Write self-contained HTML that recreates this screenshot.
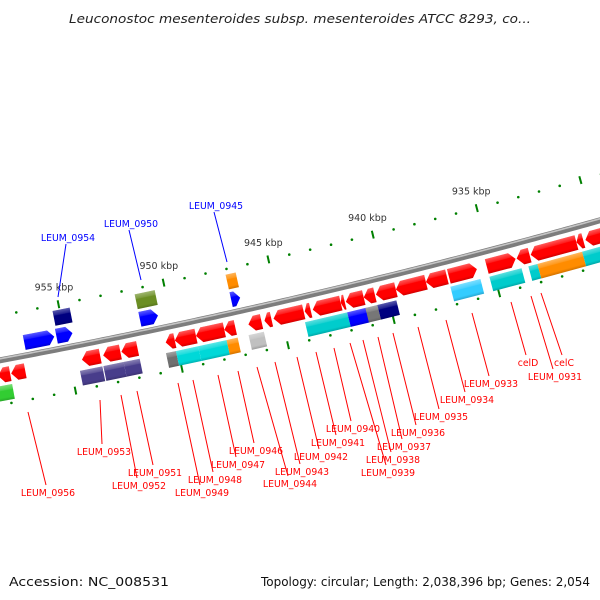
<!DOCTYPE html>
<html><head><meta charset="utf-8"><style>
html,body{margin:0;padding:0;background:#fff;}
svg{display:block;}
text{font-family:"DejaVu Sans","Liberation Sans",sans-serif;}
</style></head><body>
<svg id="map" width="600" height="600" viewBox="0 0 600 600" xmlns="http://www.w3.org/2000/svg">
<defs>
<linearGradient id="bevel" x1="0" y1="0" x2="0" y2="1">
<stop offset="0" stop-color="#fff" stop-opacity="0.35"/>
<stop offset="0.3" stop-color="#fff" stop-opacity="0.12"/>
<stop offset="0.35" stop-color="#fff" stop-opacity="0"/>
<stop offset="0.8" stop-color="#000" stop-opacity="0"/>
<stop offset="1" stop-color="#000" stop-opacity="0.18"/>
</linearGradient>
</defs>
<text x="300" y="23" text-anchor="middle" font-size="12.5" font-style="italic" fill="#222" textLength="462" lengthAdjust="spacingAndGlyphs">Leuconostoc mesenteroides subsp. mesenteroides ATCC 8293, co...</text>
<g id="ticks"></g>
<g id="backbone"></g>
<g id="genes"></g>
<g id="labels"></g>
<text x="9" y="586" font-size="12" fill="#111" textLength="160" lengthAdjust="spacingAndGlyphs">Accession: NC_008531</text>
<text x="590" y="586" text-anchor="end" font-size="12" fill="#111" textLength="329" lengthAdjust="spacingAndGlyphs">Topology: circular; Length: 2,038,396 bp; Genes: 2,054</text>
</svg>
<script>
// ---- data ----
const geneStart = [956.90,955.38,951.43,947.10, 955.33,951.43,947.10,
 958.38,957.76,954.43,953.43,952.57,950.48,950.05,949.05,947.71,946.57,945.81,945.38,943.90,943.52,942.19,941.95,941.10,940.52,939.57,938.14,937.05,935.24,933.81,933.14,930.95,930.52,
 959.20,954.62,953.52,952.57,950.57,950.10,949.05,947.71,946.67,944.00,942.00,941.14,940.57,937.10,935.24,933.38,932.95,930.81];
const geneEnd = [955.48,954.62,950.57,946.67, 954.52,950.48,946.62,
 957.81,957.10,953.57,952.62,951.81,950.05,949.05,947.71,947.19,945.95,945.48,943.95,943.62,942.19,942.00,941.10,940.57,939.57,938.14,937.14,935.71,933.86,933.19,930.95,930.62,929.00,
 957.81,953.57,952.57,951.81,950.10,949.05,947.71,947.19,945.95,942.00,941.10,940.57,939.67,935.67,933.71,932.95,930.81,929.00];
const geneRow = [-1,-1,-1,-1, -2,-2,-2,
 1,1,1,1,1,1,1,1,1,1,1,1,1,1,1,1,1,1,1,1,1,1,1,1,1,1,
 2,2,2,2,2,2,2,2,2,2,2,2,2,2,2,2,2,2];
const geneColor = ["#0000ff","#0000ff","#0000ff","#0000ff","#000080","#6b8e23","#ff8c00",
 "#ff0000","#ff0000","#ff0000","#ff0000","#ff0000","#ff0000","#ff0000","#ff0000","#ff0000","#ff0000","#ff0000","#ff0000","#ff0000","#ff0000","#ff0000","#ff0000","#ff0000","#ff0000","#ff0000","#ff0000","#ff0000","#ff0000","#ff0000","#ff0000","#ff0000","#ff0000",
 "#32cd32","#483d8b","#483d8b","#483d8b","#707070","#00d8d8","#00d8d8","#ff8c00","#c0c0c0","#00cccc","#0000ff","#777777","#000080","#33ccff","#00cccc","#00cccc","#ff8c00","#00cccc"];
const geneShape = [1,1,1,1, 0,0,0,
 -1,-1,-1,-1,-1,-1,-1,-1,-1,-1,-1,-1,-1,-1,-1,-1,-1,-1,-1,-1,1,1,-1,-1,-1,-1,-1,
 0,0,0,0,0,0,0,0,0,0,0,0,0,0,0,0,0,0];
const tickMin = 925, tickMax = 960;
const tickLabels = [955,950,945,940,935];

const redLabels = ["LEUM_0956","LEUM_0953","LEUM_0952","LEUM_0951","LEUM_0949","LEUM_0948","LEUM_0947","LEUM_0946","LEUM_0944","LEUM_0943","LEUM_0942","LEUM_0941","LEUM_0940","LEUM_0939","LEUM_0938","LEUM_0937","LEUM_0936","LEUM_0935","LEUM_0934","LEUM_0933","celD","LEUM_0931","celC"];
const blueLabels = ["LEUM_0954","LEUM_0950","LEUM_0945"];
// ---- layout (annotation placement, not data) ----
const redLineFrom = [[28,412],[100,400],[121,395],[137,391],[178,383],[193,380],[218,375],[238,371],[257,367],[275,362],[297,357],[316,352],[334,348],[350,343],[363,340],[378,337],[393,333],[418,327],[446,320],[472,313],[511,302],[531,296],[541,293]];
const redTextAt = [[48,496],[104,455],[139,489],[155,476],[202,496],[215,483],[238,468],[256,454],[290,487],[302,475],[321,460],[338,446],[353,432],[388,476],[393,463],[404,450],[418,436],[441,420],[467,403],[491,387],[528,366],[555,380],[564,366]];
const blueLineFrom = [[58,297],[141,280],[227,262]];
const blueTextAt = [[68,241],[131,227],[216,209]];

const R = 7000, CX = -1289, CY = -6520;
const rowOffset = {"-2":-31,"-1":-13,"1":15,"2":33};
const NS = "http://www.w3.org/2000/svg";
function th(p){ return 0.2258 + (945 - p) * 0.003086; }
function pt(p, d){ const t = th(p), r = R + d; return [CX + r*Math.sin(t), CY + r*Math.cos(t)]; }
function mk(tag, attrs, parent){ const e = document.createElementNS(NS, tag); for (const k in attrs) e.setAttribute(k, attrs[k]); parent.appendChild(e); return e; }

// ticks
const tg = document.getElementById('ticks');
[-44, 44].forEach(d => {
  for (let p = tickMin; p <= tickMax; p++) {
    if (p % 5 === 0) {
      const a = pt(p, d-4), b = pt(p, d+4);
      const l = mk('line', {x1:a[0],y1:a[1],x2:b[0],y2:b[1],stroke:'#008000','stroke-width':2}, tg);
      
      
    } else {
      const c = pt(p, d);
      const dot = mk('circle', {cx:c[0],cy:c[1],r:1.3,fill:'#008000'}, tg);
      
      
    }
  }
});
tickLabels.forEach(p => {
  const c = pt(p, -62);
  const t = mk('text', {x:c[0]-1,y:c[1]+4,'text-anchor':'middle','font-size':9.5,fill:'#333'}, tg);
  t.textContent = p + ' kbp';
  
  
});

// backbone
const bg = document.getElementById('backbone');
let pts = [];
for (let p = tickMax + 3; p >= tickMin - 3; p -= 0.25) { const c = pt(p, 0); pts.push(c[0].toFixed(2)+','+c[1].toFixed(2)); }
const b1 = mk('polyline', {points:pts.join(' '),fill:'none',stroke:'#7d7d7d','stroke-width':6}, bg);


pts = [];
for (let p = tickMax + 3; p >= tickMin - 3; p -= 0.25) { const c = pt(p, -1.5); pts.push(c[0].toFixed(2)+','+c[1].toFixed(2)); }
const b2 = mk('polyline', {points:pts.join(' '),fill:'none',stroke:'#c4c4c4','stroke-width':1.6}, bg);



// genes
const gg = document.getElementById('genes');
const H = 15;
for (let i = 0; i < geneStart.length; i++) {
  const d = rowOffset[String(geneRow[i])];
  const pm = (geneStart[i] + geneEnd[i]) / 2;
  const c = pt(pm, d);
  const L = Math.abs(geneStart[i] - geneEnd[i]) * 21.6 * (R + d) / R;
  const g = mk('g', {transform:`translate(${c[0].toFixed(2)},${c[1].toFixed(2)}) rotate(${(-th(pm)*180/Math.PI).toFixed(3)})`}, gg);
  
  
  const x0 = -L/2, x1 = L/2, h = H/2, a = Math.min(6, L*0.6);
  let shape;
  if (geneShape[i] === 1) shape = `${x0},${-h} ${x1-a},${-h} ${x1},0 ${x1-a},${h} ${x0},${h}`;
  else if (geneShape[i] === -1) shape = `${x1},${-h} ${x0+a},${-h} ${x0},0 ${x0+a},${h} ${x1},${h}`;
  else shape = `${x0},${-h} ${x1},${-h} ${x1},${h} ${x0},${h}`;
  mk('polygon', {points:shape, fill:geneColor[i]}, g);
  mk('polygon', {points:shape, fill:'url(#bevel)'}, g);
}

// labels
const lg = document.getElementById('labels');
function addLabel(name, from, at, color) {
  const ln = mk('line', {x1:from[0],y1:from[1],x2:at[0]-2,y2:(at[1] > from[1] ? at[1]-11 : at[1]+3),stroke:color,'stroke-width':1}, lg);
  
  
  const t = mk('text', {x:at[0],y:at[1],'text-anchor':'middle','font-size':9.3,fill:color}, lg);
  t.textContent = name;
  
  
}
redLabels.forEach((n, i) => addLabel(n, redLineFrom[i], redTextAt[i], '#ff0000'));
blueLabels.forEach((n, i) => addLabel(n, blueLineFrom[i], blueTextAt[i], '#0000ff'));
</script>
</body></html>
